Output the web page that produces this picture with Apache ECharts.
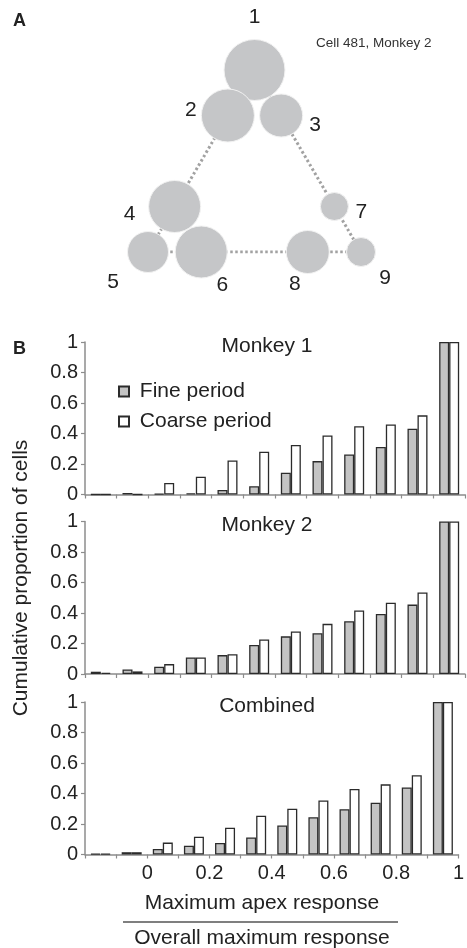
<!DOCTYPE html>
<html>
<head>
<meta charset="utf-8">
<script src="https://cdn.jsdelivr.net/npm/echarts@6/dist/echarts.min.js"></script>
<style>
html, body { margin: 0; padding: 0; background: #fff; }
#main { width: 467px; height: 948px; }
</style>
</head>
<body>
<div id="main"></div>
<script>
// panel A: stimulus positions on the triangle (x in half-side steps, y in rows) and response size
let stimNames = ['1', '2', '3', '4', '5', '6', '7', '8', '9'];
let stimX = [4, 3, 5, 1, 0, 2, 7, 6, 8];
let stimY = [4, 3, 3, 1, 0, 0, 1, 0, 0];
let stimSize = [61, 53, 43, 52, 41, 52, 28, 43, 29];

// panel B: cumulative proportion of cells per bin
let bins = ['-0.2', '-0.1', '0', '0.1', '0.2', '0.3', '0.4', '0.5', '0.6', '0.7', '0.8', '0.9'];
let xTickLabels = [0, 0.2, 0.4, 0.6, 0.8, 1];
let panelTitles = ['Monkey 1', 'Monkey 2', 'Combined'];
let fineMonkey1 = [0, 0.01, 0.005, 0.008, 0.03, 0.054, 0.143, 0.219, 0.262, 0.312, 0.431, 1];
let coarseMonkey1 = [0, 0, 0.076, 0.117, 0.223, 0.281, 0.325, 0.387, 0.448, 0.459, 0.519, 1];
let fineMonkey2 = [0.015, 0.03, 0.048, 0.109, 0.124, 0.19, 0.247, 0.268, 0.346, 0.394, 0.455, 1];
let coarseMonkey2 = [0.008, 0.017, 0.065, 0.108, 0.13, 0.226, 0.279, 0.329, 0.416, 0.468, 0.535, 1];
let fineCombined = [0.005, 0.015, 0.036, 0.057, 0.076, 0.112, 0.19, 0.244, 0.297, 0.34, 0.44, 1];
let coarseCombined = [0.005, 0.015, 0.078, 0.117, 0.176, 0.254, 0.30, 0.354, 0.43, 0.46, 0.52, 1];

let fineData = [fineMonkey1, fineMonkey2, fineCombined];
let coarseData = [coarseMonkey1, coarseMonkey2, coarseCombined];

// layout / style
let FONT = '"Liberation Sans", Arial, sans-serif';
let AXIS_COLOR = '#8c8c8c';
let panelTops = [342, 521.5, 702];
let panelHeight = 152.5;
let labelOffsets = [[0, -53], [-37, -5], [34, 10], [-45, 8], [-35, 30], [21, 33], [27, 6], [-13, 32], [24, 26]];

let chart = echarts.init(document.getElementById('main'));

let grids = [];
let xAxes = [];
let yAxes = [];
let series = [];
let graphics = [];

panelTops.forEach((top, i) => {
    let last = i === panelTops.length - 1;
    grids.push({ left: 85, width: 380, top: top, height: panelHeight });
    // category axis that places the bars
    xAxes.push({
        type: 'category', gridIndex: i, data: bins, boundaryGap: true,
        axisLine: { show: false }, axisTick: { show: false }, axisLabel: { show: false }
    });
    // value axis that draws ticks and labels at the bin edges
    xAxes.push({
        type: 'value', gridIndex: i, min: -0.2, max: 1, interval: 0.1, position: 'bottom',
        splitLine: { show: false },
        axisLine: { show: true, onZero: false, lineStyle: { color: AXIS_COLOR, width: 1.5 } },
        axisTick: { show: true, length: 4, lineStyle: { color: AXIS_COLOR, width: 1.2 } },
        axisLabel: {
            show: last, margin: 9, fontSize: 20, color: '#222', fontFamily: FONT,
            showMinLabel: true, showMaxLabel: true,
            formatter: v => xTickLabels.some(t => Math.abs(t - v) < 1e-6) ? String(+v.toFixed(1)) : ''
        }
    });
    yAxes.push({
        type: 'value', gridIndex: i, min: 0, max: 1, interval: 0.2,
        splitLine: { show: false },
        axisLine: { show: true, onZero: false, lineStyle: { color: AXIS_COLOR, width: 1.5 } },
        axisTick: { show: true, length: 4, lineStyle: { color: AXIS_COLOR, width: 1.2 } },
        axisLabel: { margin: 7, fontSize: 20, color: '#222', fontFamily: FONT, formatter: v => String(+v.toFixed(1)) }
    });
    series.push({
        name: 'Fine period', type: 'bar', xAxisIndex: 2 * i, yAxisIndex: i,
        data: fineData[i], barWidth: 10, barGap: '0%',
        itemStyle: { color: '#c4c4c4', borderColor: '#2b2b2b', borderWidth: 1.3 }
    });
    series.push({
        name: 'Coarse period', type: 'bar', xAxisIndex: 2 * i, yAxisIndex: i,
        data: coarseData[i], barWidth: 10, barGap: '0%',
        itemStyle: { color: '#ffffff', borderColor: '#2b2b2b', borderWidth: 1.3 }
    });
    graphics.push({
        type: 'text', x: 267, y: top + 4,
        style: { text: panelTitles[i], font: '21px ' + FONT, fill: '#222', align: 'center', verticalAlign: 'middle' }
    });
});

// panel A grid
grids.push({ left: 148, top: 70, width: 213, height: 182 });
xAxes.push({ type: 'value', gridIndex: 3, min: 0, max: 8, show: false });
yAxes.push({ type: 'value', gridIndex: 3, min: 0, max: 4, show: false });

let corner = idx => [stimX[idx], stimY[idx]];
series.push({
    type: 'line', xAxisIndex: 6, yAxisIndex: 3, z: 1, silent: true,
    showSymbol: false, symbol: 'none',
    data: [corner(4), corner(0), corner(8), corner(4)],
    lineStyle: { color: '#a2a2a2', width: 3, type: [2.5, 2.5] }
});
series.push({
    type: 'scatter', xAxisIndex: 6, yAxisIndex: 3, z: 3,
    symbolSize: v => v[2],
    itemStyle: { color: '#c5c6c8', opacity: 1, borderColor: '#f2f2f2', borderWidth: 1 },
    label: { show: true, position: 'inside', formatter: '{b}', fontSize: 21, color: '#222', fontFamily: FONT },
    data: stimNames.map((n, i) => ({
        name: n,
        value: [stimX[i], stimY[i], stimSize[i]],
        label: { offset: labelOffsets[i] }
    }))
});

graphics.push(
    { type: 'text', x: 13, y: 21, style: { text: 'A', font: 'bold 18px ' + FONT, fill: '#222', verticalAlign: 'middle' } },
    { type: 'text', x: 13, y: 349, style: { text: 'B', font: 'bold 18px ' + FONT, fill: '#222', verticalAlign: 'middle' } },
    { type: 'text', x: 316, y: 43, style: { text: 'Cell 481, Monkey 2', font: '13.5px ' + FONT, fill: '#333', verticalAlign: 'middle' } },
    {
        type: 'text', x: 21, y: 578, rotation: Math.PI / 2,
        style: { text: 'Cumulative proportion of cells', font: '21px ' + FONT, fill: '#222', align: 'center', verticalAlign: 'middle' }
    },
    { type: 'text', x: 262, y: 903, style: { text: 'Maximum apex response', font: '21px ' + FONT, fill: '#222', align: 'center', verticalAlign: 'middle' } },
    { type: 'line', shape: { x1: 123, y1: 922, x2: 398, y2: 922 }, style: { stroke: '#555', lineWidth: 1.5 } },
    { type: 'text', x: 262, y: 938, style: { text: 'Overall maximum response', font: '21px ' + FONT, fill: '#222', align: 'center', verticalAlign: 'middle' } }
);

chart.setOption({
    animation: false,
    backgroundColor: '#fff',
    grid: grids,
    xAxis: xAxes,
    yAxis: yAxes,
    legend: {
        data: ['Fine period', 'Coarse period'],
        orient: 'vertical', left: 113, top: 376,
        icon: 'rect', itemWidth: 10, itemHeight: 10, itemGap: 9,
        formatter: name => ' ' + name,
        textStyle: { fontSize: 21, color: '#222', fontFamily: FONT }
    },
    series: series,
    graphic: graphics
});
</script>
</body>
</html>
